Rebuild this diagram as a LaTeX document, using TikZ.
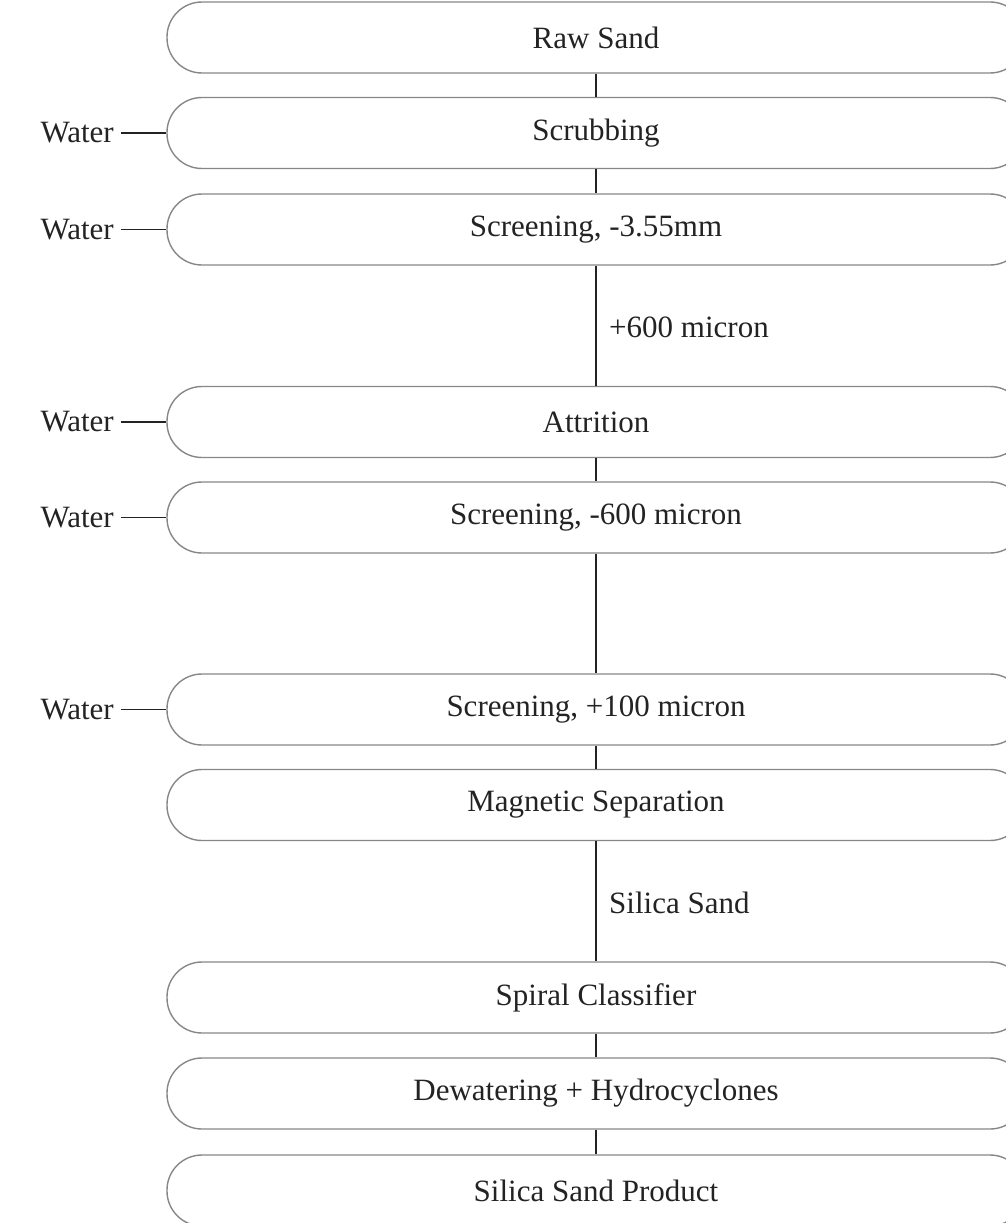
\documentclass[tikz,border=0pt]{standalone}
\usepackage{fontspec}
\setmainfont{Liberation Serif}
\usetikzlibrary{positioning}
\definecolor{boxgray}{RGB}{135,135,135}
\definecolor{inkgray}{RGB}{35,35,35}
\tikzset{
  stage/.style={draw=boxgray, line width=1.4pt, rounded corners=35pt,
    minimum width=858pt, minimum height=71pt, inner sep=0pt,
    font=\fontsize{31}{37}\selectfont, text=inkgray},
  feed/.style={anchor=east, inner sep=0pt, font=\fontsize{31}{37}\selectfont, text=inkgray},
  flowlabel/.style={anchor=west, inner sep=0pt, font=\fontsize{31}{37}\selectfont, text=inkgray},
  link/.style={draw=inkgray, line width=1.3pt}
}

\begin{document}
\begin{tikzpicture}[x=1pt,y=-1pt]
  \useasboundingbox (0,0) rectangle (1006,1223);
  \clip (0,0) rectangle (1006,1223);
  % process stages
  \node[stage] (raw)     at (596,37.5)  {Raw Sand};
  \node[stage] (scrub)   at (596,133)   {Scrubbing};
  \node[stage] (screenA) at (596,229.5) {Screening, -3.55mm};
  \node[stage] (attr)    at (596,422)   {Attrition};
  \node[stage] (screenB) at (596,517.5) {Screening, -600 micron};
  \node[stage] (screenC) at (596,709.5) {Screening, +100 micron};
  \node[stage] (magsep)  at (596,805)   {Magnetic Separation};
  \node[stage] (spiral)  at (596,997.5) {Spiral Classifier};
  \node[stage] (dewater) at (596,1093.5) {Dewatering + Hydrocyclones};
  \node[stage] (product) at (596,1190.5) {Silica Sand Product};
  % vertical flow
  \foreach \a/\b in {raw/scrub, scrub/screenA, screenA/attr, attr/screenB,
                     screenB/screenC, screenC/magsep, magsep/spiral,
                     spiral/dewater, dewater/product}
    \draw[link] (\a.south) -- (\b.north);
  \node[flowlabel] (lblcoarse) at (609,327) {+600 micron};
  \node[flowlabel] (lblsilica) at (609,903) {Silica Sand};
  % water feeds
  \foreach \s in {scrub, screenA, attr, screenB, screenC}{
    \node[feed] (water\s) at (114,0 |- \s.west) {Water};
    \draw[link] ([xshift=-45pt]\s.west) -- (\s.west);
  }
\end{tikzpicture}
\end{document}
